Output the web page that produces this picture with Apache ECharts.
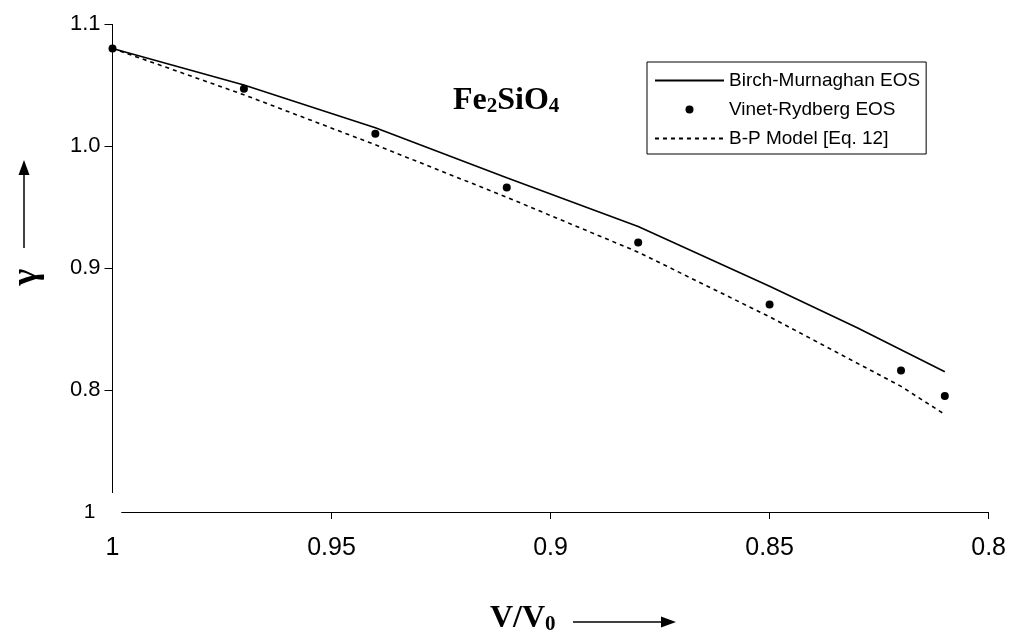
<!DOCTYPE html>
<html>
<head>
<meta charset="utf-8">
<script src="https://cdn.jsdelivr.net/npm/echarts@6/dist/echarts.min.js"></script>
<style>html,body{margin:0;padding:0;background:#fff}#c{width:1009px;height:631px}</style>
</head>
<body>
<div id="c"></div>
<script>
// ---- data ----
const vinetX = [1.00, 0.97, 0.94, 0.91, 0.88, 0.85, 0.82, 0.81];
const vinetY = [1.080, 1.047, 1.010, 0.966, 0.921, 0.870, 0.816, 0.795];
const birchX = [1.00, 0.97, 0.94, 0.91, 0.88, 0.85, 0.84, 0.83, 0.82, 0.81];
const birchY = [1.080, 1.050, 1.015, 0.974, 0.934, 0.885, 0.868, 0.851, 0.833, 0.815];
const bpX = [1.00, 0.97, 0.94, 0.91, 0.88, 0.85, 0.82, 0.81];
const bpY = [1.080, 1.042, 1.001, 0.958, 0.913, 0.860, 0.803, 0.780];
const xTickValues = [1, 0.95, 0.9, 0.85, 0.8];
const xTickLabels = ['1', '0.95', '0.9', '0.85', '0.8'];
const yTickValues = [0.7, 0.8, 0.9, 1.0, 1.1];
const yTickLabels = ['1', '0.8', '0.9', '1.0', '1.1'];
const seriesNames = ['Birch-Murnaghan EOS', 'Vinet-Rydberg EOS', 'B-P Model [Eq. 12]'];

const zip = (xs, ys) => xs.map((x, i) => [x, ys[i]]);
const chart = echarts.init(document.getElementById('c'));
const serifB = "'Liberation Serif', 'Times New Roman', serif";
const sans = "'Liberation Sans', Arial, sans-serif";
const noSym = { opacity: 0, color: 'rgba(0,0,0,0)', borderWidth: 0 };

chart.setOption({
  animation: false,
  backgroundColor: '#fff',
  grid: { left: 112.5, right: 19, top: 24, bottom: 119, containLabel: false },
  title: {
    text: '{a|Fe}{s|2}{a|SiO}{s|4}',
    left: 448, top: 80,
    textStyle: {
      rich: {
        a: { fontFamily: serifB, fontWeight: 'bold', fontSize: 32, color: '#000', lineHeight: 32 },
        s: { fontFamily: serifB, fontWeight: 'bold', fontSize: 21, color: '#000', lineHeight: 12, verticalAlign: 'bottom' }
      }
    }
  },
  legend: {
    orient: 'vertical',
    left: 647, top: 62,
    padding: [9, 6, 6, 7],
    borderColor: '#000', borderWidth: 1,
    itemWidth: 69, itemHeight: 8, itemGap: 10,
    textStyle: { fontFamily: sans, fontSize: 19, color: '#000' },
    data: [
      { name: seriesNames[0], itemStyle: noSym },
      { name: seriesNames[1] },
      { name: seriesNames[2], itemStyle: noSym }
    ]
  },
  xAxis: {
    type: 'value', min: 0.8, max: 1, inverse: true,
    axisLine: { show: false },
    axisTick: { show: true, length: 7, lineStyle: { color: '#000' }, customValues: xTickValues.slice(1) },
    axisLabel: {
      customValues: xTickValues,
      formatter: v => xTickLabels[xTickValues.findIndex(t => Math.abs(t - v) < 1e-9)],
      margin: 24, fontSize: 25, color: '#000', fontFamily: sans
    },
    splitLine: { show: false }
  },
  yAxis: {
    type: 'value', min: 0.7, max: 1.1,
    axisLine: { show: false },
    axisTick: { show: true, length: 8, lineStyle: { color: '#000' }, customValues: yTickValues.slice(1) },
    axisLabel: {
      customValues: yTickValues,
      formatter: v => {
        const i = yTickValues.findIndex(t => Math.abs(t - v) < 1e-9);
        return i === 0 ? '{b|' + yTickLabels[i] + '}' : yTickLabels[i];
      },
      rich: { b: { fontSize: 21, color: '#000', fontFamily: sans, padding: [0, 5, 0, 0] } },
      margin: 12, fontSize: 22, color: '#000', fontFamily: sans
    },
    splitLine: { show: false }
  },
  series: [
    {
      name: seriesNames[0], type: 'line', data: zip(birchX, birchY),
      symbol: 'none', lineStyle: { color: '#000', width: 1.6, type: 'solid' }, itemStyle: { color: '#000' },
      clip: false, z: 3
    },
    {
      name: seriesNames[1], type: 'scatter', data: zip(vinetX, vinetY),
      symbol: 'circle', symbolSize: 8, itemStyle: { color: '#000', opacity: 1 }, clip: false, z: 4,
      markLine: {
        silent: true, symbol: ['none', 'none'], label: { show: false },
        lineStyle: { color: '#000', width: 1, type: 'solid', opacity: 1 },
        emphasis: { disabled: true },
        data: [
          [{ coord: [1, 1.1] }, { coord: [1, 0.7156] }],
          [{ coord: [0.998, 0.7] }, { coord: [0.8, 0.7] }]
        ]
      }
    },
    {
      name: seriesNames[2], type: 'line', data: zip(bpX, bpY),
      symbol: 'none', lineStyle: { color: '#000', width: 1.6, type: [4, 4] }, itemStyle: { color: '#000' },
      clip: false, z: 3
    }
  ],
  graphic: [
    { type: 'text', x: 27, y: 277, rotation: Math.PI / 2,
      style: { text: 'γ', font: "bold 36px 'Liberation Serif', serif", fill: '#000', align: 'center', verticalAlign: 'middle' } },
    { type: 'line', shape: { x1: 24, y1: 248, x2: 24, y2: 172 }, style: { stroke: '#000', lineWidth: 1.5 } },
    { type: 'polygon', shape: { points: [[24, 160], [18.5, 175], [29.5, 175]] }, style: { fill: '#000' } },
    { type: 'text', x: 490, y: 603,
      style: { text: '{a|V/V}{s|0}', fill: '#000', align: 'left', verticalAlign: 'top',
        rich: { a: { font: "bold 32px 'Liberation Serif', serif", fill: '#000', lineHeight: 32 },
                s: { font: "bold 21px 'Liberation Serif', serif", fill: '#000', lineHeight: 12, verticalAlign: 'bottom' } } } },
    { type: 'line', shape: { x1: 573, y1: 622, x2: 663, y2: 622 }, style: { stroke: '#000', lineWidth: 1.5 } },
    { type: 'polygon', shape: { points: [[676, 622], [661, 616.5], [661, 627.5]] }, style: { fill: '#000' } }
  ]
});
</script>
</body>
</html>
